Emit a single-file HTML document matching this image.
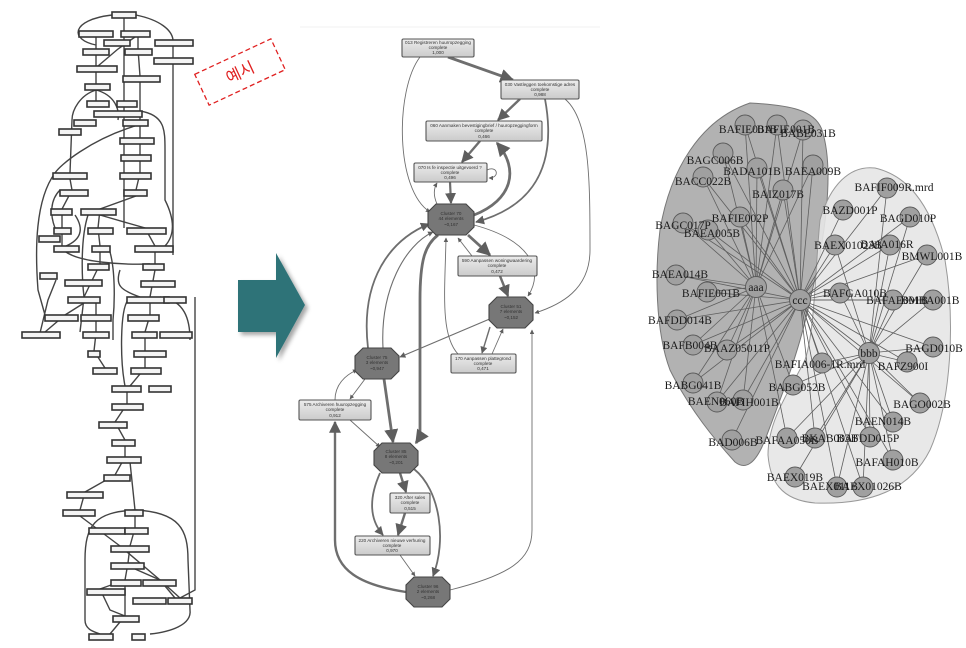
<!DOCTYPE html>
<html><head><meta charset="utf-8"><style>
html,body{margin:0;padding:0;background:#fff;}
svg{display:block;}
.lb{fill:#f4f4f4;stroke:#333;stroke-width:1.6;}
.le{fill:none;stroke:#444;stroke-width:1.4;}
.mb{fill:url(#gb);stroke:#555;stroke-width:1.1;}
.oc{fill:#777;stroke:#444;stroke-width:1.1;}
.me{fill:none;stroke:#6e6e6e;}
.mt{font-family:"Liberation Sans",sans-serif;font-size:4.6px;fill:#333;text-anchor:middle;}
.rn{fill:#a0a0a0;stroke:#5a5a5a;stroke-width:0.9;}
.rl{stroke:#5e5e5e;stroke-width:0.8;}
.rt{font-family:"Liberation Serif",serif;font-size:11.5px;fill:#1a1a1a;text-anchor:middle;}
</style></head><body>
<svg width="966" height="648" viewBox="0 0 966 648" xmlns="http://www.w3.org/2000/svg">
<defs>
<linearGradient id="gb" x1="0" y1="0" x2="0" y2="1"><stop offset="0" stop-color="#ececec"/><stop offset="1" stop-color="#cbcbcb"/></linearGradient>
<marker id="ar" viewBox="0 0 10 10" refX="9" refY="5" markerWidth="5" markerHeight="5" orient="auto"><path d="M0,0L10,5L0,10z" fill="#5e5e5e"/></marker>
<filter id="sh"><feDropShadow dx="3" dy="3" stdDeviation="2" flood-color="#000" flood-opacity="0.35"/></filter>
</defs>

<!-- LEFT PANEL edges -->
<g class="le">
<path d="M124,18 L124,76 L124,138 L124,190 L124,228"/>
<path d="M112,15 C70,20 70,40 96,45"/>
<path d="M136,15 C160,20 172,30 173,40 L173,240 L173,255"/>
<path d="M96,37 L96,49 L96,66 L96,84 L96,101"/>
<path d="M135,37 L118,49 L98,66"/>
<path d="M138,37 L138,49 L140,76 L140,120 L140,138 L140,155 L140,173 L136,190"/>
<path d="M96,90 C80,95 72,110 72,120 L70,173"/>
<path d="M96,90 C115,95 120,110 118,120"/>
<path d="M140,111 C165,115 165,130 165,150 L165,200 C175,220 175,235 165,246"/>
<path d="M135,126 C90,140 60,165 55,173 C35,200 35,250 38,290 L45,315"/>
<path d="M70,179 L72,190 L62,209 L62,228 L62,246"/>
<path d="M60,190 C50,200 50,215 55,228 M75,215 C85,230 80,240 66,246"/>
<path d="M136,196 L100,209 L98,228 L100,246 L100,264 L84,297"/>
<path d="M100,215 L145,228 L155,246 L155,264"/>
<path d="M66,252 C80,262 120,265 150,264"/>
<path d="M88,215 C80,240 82,280 84,297 L82,315 L80,332"/>
<path d="M110,252 C115,270 115,300 113,320 L113,340"/>
<path d="M155,270 L150,297 L150,315 L145,332"/>
<path d="M160,297 C185,300 190,320 190,340"/>
<path d="M120,270 C115,285 120,290 140,297"/>
<path d="M56,280 L48,300 L40,333"/>
<path d="M84,303 L65,315 L45,332"/>
<path d="M96,303 L96,315 L96,333 L94,351 L105,368"/>
<path d="M128,300 C120,310 120,360 125,386"/>
<path d="M145,338 L145,351 L145,368 L130,386"/>
<path d="M195,297 L195,590 L180,598"/>
<path d="M127,392 L127,404 L115,422 L125,440 L125,457 L115,475 L85,492 L80,510"/>
<path d="M130,462 L135,510 L135,528 L130,546 L128,563 L125,580 L125,616 L110,634"/>
<path d="M135,510 C95,512 85,525 85,560 L85,620 C85,630 95,632 100,634"/>
<path d="M135,510 C180,512 188,530 188,560 L190,610 C192,625 170,632 150,634"/>
<path d="M80,516 L120,546 L160,580 L175,598"/>
<path d="M125,580 L100,589 L110,610 L125,616"/>
<path d="M135,569 L160,580 L180,598"/>
</g>
<g class="lb">
<rect x="112" y="12" width="24" height="6"/>
<rect x="79" y="31" width="34" height="6"/><rect x="121" y="31" width="29" height="6"/>
<rect x="104" y="40" width="26" height="6"/><rect x="155" y="40" width="38" height="6"/>
<rect x="83" y="49" width="26" height="6"/><rect x="125" y="49" width="27" height="6"/>
<rect x="154" y="58" width="39" height="6"/><rect x="77" y="66" width="40" height="6"/>
<rect x="123" y="76" width="37" height="6"/><rect x="85" y="84" width="25" height="6"/>
<rect x="87" y="101" width="22" height="6"/><rect x="117" y="101" width="20" height="6"/>
<rect x="94" y="111" width="48" height="6"/><rect x="74" y="120" width="22" height="6"/>
<rect x="123" y="120" width="25" height="6"/><rect x="59" y="129" width="22" height="6"/>
<rect x="120" y="138" width="34" height="6"/><rect x="121" y="155" width="30" height="6"/>
<rect x="120" y="173" width="31" height="6"/><rect x="53" y="173" width="34" height="6"/>
<rect x="60" y="190" width="28" height="6"/><rect x="124" y="190" width="23" height="6"/>
<rect x="51" y="209" width="21" height="6"/><rect x="81" y="209" width="35" height="6"/>
<rect x="54" y="228" width="17" height="6"/><rect x="88" y="228" width="25" height="6"/>
<rect x="127" y="228" width="39" height="6"/><rect x="39" y="236" width="21" height="6"/>
<rect x="54" y="246" width="25" height="6"/><rect x="92" y="246" width="18" height="6"/>
<rect x="135" y="246" width="38" height="6"/><rect x="88" y="264" width="21" height="6"/>
<rect x="143" y="264" width="21" height="6"/><rect x="40" y="273" width="17" height="6"/>
<rect x="65" y="280" width="37" height="6"/><rect x="141" y="281" width="34" height="6"/>
<rect x="68" y="297" width="32" height="6"/><rect x="127" y="297" width="42" height="6"/>
<rect x="164" y="297" width="22" height="6"/><rect x="45" y="315" width="33" height="6"/>
<rect x="81" y="315" width="30" height="6"/><rect x="128" y="315" width="31" height="6"/>
<rect x="22" y="332" width="38" height="6"/><rect x="83" y="332" width="26" height="6"/>
<rect x="132" y="332" width="25" height="6"/><rect x="160" y="332" width="32" height="6"/>
<rect x="88" y="351" width="12" height="6"/><rect x="134" y="351" width="32" height="6"/>
<rect x="93" y="368" width="24" height="6"/><rect x="131" y="368" width="30" height="6"/>
<rect x="112" y="386" width="29" height="6"/><rect x="149" y="386" width="22" height="6"/>
<rect x="112" y="404" width="31" height="6"/><rect x="99" y="422" width="28" height="6"/>
<rect x="112" y="440" width="23" height="6"/><rect x="107" y="457" width="34" height="6"/>
<rect x="104" y="475" width="26" height="6"/><rect x="67" y="492" width="36" height="6"/>
<rect x="63" y="510" width="32" height="6"/><rect x="125" y="510" width="18" height="6"/>
<rect x="89" y="528" width="36" height="6"/><rect x="125" y="528" width="23" height="6"/>
<rect x="111" y="546" width="38" height="6"/><rect x="111" y="563" width="33" height="6"/>
<rect x="111" y="580" width="30" height="6"/><rect x="143" y="580" width="33" height="6"/>
<rect x="87" y="589" width="38" height="6"/><rect x="133" y="598" width="33" height="6"/>
<rect x="168" y="598" width="24" height="6"/><rect x="113" y="616" width="26" height="6"/>
<rect x="89" y="634" width="24" height="6"/><rect x="132" y="634" width="13" height="6"/>
</g>

<!-- dashed label -->
<g transform="translate(240,72) rotate(-25)">
<rect x="-42" y="-17" width="84" height="34" fill="none" stroke="#e02020" stroke-width="1.3" stroke-dasharray="5,3"/>
<text x="0" y="6" font-family="'Liberation Sans','Noto Sans CJK KR',sans-serif" font-size="16" fill="#e02020" text-anchor="middle">예시</text>
</g>

<!-- teal arrow -->
<path d="M238,280 L276,280 L276,253 L305,305 L276,358 L276,332 L238,332 Z" fill="#2f7378" filter="url(#sh)"/>

<!-- MIDDLE PANEL -->
<line x1="300" y1="27" x2="600" y2="27" stroke="#f0f0f0" stroke-width="1"/>
<g class="me" marker-end="url(#ar)">
<path d="M448,57 L513,80" stroke-width="2.8"/>
<path d="M420,57 C395,90 395,190 430,212" stroke-width="0.9"/>
<path d="M520,99 L498,120" stroke-width="2.4"/>
<path d="M545,99 C560,180 520,210 476,222" stroke-width="1.8"/>
<path d="M565,99 C590,120 590,180 590,250 C590,290 560,305 535,313" stroke-width="0.9"/>
<path d="M480,141 L462,162" stroke-width="2.4"/>
<path d="M474,215 C512,200 520,170 497,143" stroke-width="2.8"/>
<path d="M450,182 L451,203" stroke-width="2.2"/>
<path d="M437,204 C433,195 434,188 437,183" stroke-width="0.9"/>
<path d="M487,170 C498,165 500,178 489,178" stroke-width="0.9"/>
<path d="M468,235 L490,255" stroke-width="2.8"/>
<path d="M472,256 L458,238" stroke-width="0.9"/>
<path d="M474,225 C530,240 545,270 528,296" stroke-width="0.9"/>
<path d="M500,276 L508,296" stroke-width="2.4"/>
<path d="M492,318 L400,357" stroke-width="1.2"/>
<path d="M490,327 L482,353" stroke-width="1.4"/>
<path d="M492,354 L503,329" stroke-width="0.9"/>
<path d="M368,348 C360,280 390,240 429,224" stroke-width="1.8"/>
<path d="M383,348 C380,290 405,245 433,232" stroke-width="1.1"/>
<path d="M438,235 C425,245 420,260 420,300 L420,430 C420,436 418,440 416,443" stroke-width="2.8"/>
<path d="M458,354 C440,335 445,290 446,238" stroke-width="0.9"/>
<path d="M384,379 L393,442" stroke-width="2.8"/>
<path d="M365,379 L350,399" stroke-width="0.9"/>
<path d="M335,400 C335,385 345,375 357,370" stroke-width="0.9"/>
<path d="M350,420 L380,447" stroke-width="0.9"/>
<path d="M400,473 L406,492" stroke-width="2.4"/>
<path d="M380,473 C368,500 370,520 383,535" stroke-width="1.8"/>
<path d="M405,513 L398,535" stroke-width="2.4"/>
<path d="M400,555 L415,576" stroke-width="0.9"/>
<path d="M414,469 C440,490 447,540 433,576" stroke-width="1.8"/>
<path d="M406,592 C360,585 335,570 335,540 L335,422" stroke-width="2.4"/>
<path d="M450,590 C510,575 532,560 532,530 L532,330" stroke-width="0.9"/>
</g>
<g>
<rect class="mb" x="402" y="39" width="72" height="18" rx="1.5"/>
<text class="mt" x="438" y="44">013 Registreren huurropzegging</text><text class="mt" x="438" y="49">complete</text><text class="mt" x="438" y="54">1,000</text>
<rect class="mb" x="501" y="80" width="78" height="19" rx="1.5"/>
<text class="mt" x="540" y="86">030 Vastleggen toekomstige adres</text><text class="mt" x="540" y="91">complete</text><text class="mt" x="540" y="96">0,988</text>
<rect class="mb" x="426" y="121" width="116" height="20" rx="1.5"/>
<text class="mt" x="484" y="127">060 Aanmaken bevestigingbrief / huuropzeggingform</text><text class="mt" x="484" y="132">complete</text><text class="mt" x="484" y="138">0,466</text>
<rect class="mb" x="414" y="163" width="73" height="19" rx="1.5"/>
<text class="mt" x="450" y="169">070 Is fe inspectie uitgevoerd ?</text><text class="mt" x="450" y="174">complete</text><text class="mt" x="450" y="179">0,496</text>
<rect class="mb" x="458" y="256" width="79" height="20" rx="1.5"/>
<text class="mt" x="497" y="262">590 Aanpassen woningwaardering</text><text class="mt" x="497" y="267">complete</text><text class="mt" x="497" y="273">0,472</text>
<rect class="mb" x="451" y="354" width="65" height="19" rx="1.5"/>
<text class="mt" x="483" y="360">170 Aanpassen plattegrond</text><text class="mt" x="483" y="365">complete</text><text class="mt" x="483" y="370">0,471</text>
<rect class="mb" x="299" y="400" width="72" height="20" rx="1.5"/>
<text class="mt" x="335" y="406">575 Archiveren huuropzegging</text><text class="mt" x="335" y="411">complete</text><text class="mt" x="335" y="417">0,912</text>
<rect class="mb" x="390" y="493" width="40" height="20" rx="1.5"/>
<text class="mt" x="410" y="499">320 After sales</text><text class="mt" x="410" y="504">complete</text><text class="mt" x="410" y="510">0,515</text>
<rect class="mb" x="355" y="536" width="75" height="19" rx="1.5"/>
<text class="mt" x="392" y="542">220 Archiveren nieuwe verhuring</text><text class="mt" x="392" y="547">complete</text><text class="mt" x="392" y="552">0,970</text>
<polygon class="oc" points="436,204 466,204 474,212 474,227 466,235 436,235 428,227 428,212"/>
<text class="mt" x="451" y="215">Cluster 70</text><text class="mt" x="451" y="220">44 elements</text><text class="mt" x="451" y="226">~0,167</text>
<polygon class="oc" points="497,297 525,297 533,305 533,320 525,328 497,328 489,320 489,305"/>
<text class="mt" x="511" y="308">Cluster 51</text><text class="mt" x="511" y="313">7 elements</text><text class="mt" x="511" y="319">~0,152</text>
<polygon class="oc" points="363,348 391,348 399,356 399,371 391,379 363,379 355,371 355,356"/>
<text class="mt" x="377" y="359">Cluster 75</text><text class="mt" x="377" y="364">3 elements</text><text class="mt" x="377" y="370">~0,947</text>
<polygon class="oc" points="382,443 410,443 418,451 418,465 410,473 382,473 374,465 374,451"/>
<text class="mt" x="396" y="453">Cluster 85</text><text class="mt" x="396" y="458">8 elements</text><text class="mt" x="396" y="464">~0,201</text>
<polygon class="oc" points="414,577 442,577 450,585 450,599 442,607 414,607 406,599 406,585"/>
<text class="mt" x="428" y="588">Cluster 96</text><text class="mt" x="428" y="593">2 elements</text><text class="mt" x="428" y="599">~0,268</text>
</g>

<!-- RIGHT PANEL -->
<path d="M750,103 C790,105 815,110 822,130 C835,170 825,240 810,300 C800,350 780,400 765,440 C755,465 745,470 735,462 C715,440 690,410 670,370 C655,330 655,270 660,230 C670,170 700,120 750,103 Z" fill="#b2b2b2" stroke="#777" stroke-width="1"/>
<path d="M875,168 C905,175 930,200 945,260 C955,320 952,400 930,450 C910,490 870,505 815,503 C780,500 770,480 768,455 C768,420 790,390 805,360 C815,330 815,270 820,220 C830,185 850,165 875,168 Z" fill="#e6e6e6" stroke="#999" stroke-width="1" fill-opacity="0.9"/>
<g class="rl">
<line x1="756" y1="287" x2="745" y2="125"/><line x1="756" y1="287" x2="777" y2="125"/><line x1="756" y1="287" x2="803" y2="130"/><line x1="756" y1="287" x2="813" y2="165"/><line x1="756" y1="287" x2="723" y2="153"/><line x1="756" y1="287" x2="757" y2="168"/><line x1="756" y1="287" x2="703" y2="177"/><line x1="756" y1="287" x2="783" y2="190"/><line x1="756" y1="287" x2="740" y2="217"/><line x1="756" y1="287" x2="683" y2="223"/><line x1="756" y1="287" x2="708" y2="230"/><line x1="756" y1="287" x2="676" y2="275"/><line x1="756" y1="287" x2="707" y2="292"/><line x1="756" y1="287" x2="677" y2="320"/><line x1="756" y1="287" x2="693" y2="345"/><line x1="756" y1="287" x2="727" y2="350"/><line x1="756" y1="287" x2="693" y2="383"/><line x1="756" y1="287" x2="717" y2="402"/><line x1="756" y1="287" x2="743" y2="400"/><line x1="756" y1="287" x2="793" y2="385"/><line x1="756" y1="287" x2="787" y2="438"/>
<line x1="800" y1="300" x2="745" y2="125"/><line x1="800" y1="300" x2="777" y2="125"/><line x1="800" y1="300" x2="803" y2="130"/><line x1="800" y1="300" x2="813" y2="165"/><line x1="800" y1="300" x2="723" y2="153"/><line x1="800" y1="300" x2="757" y2="168"/><line x1="800" y1="300" x2="703" y2="177"/><line x1="800" y1="300" x2="783" y2="190"/><line x1="800" y1="300" x2="740" y2="217"/><line x1="800" y1="300" x2="683" y2="223"/><line x1="800" y1="300" x2="708" y2="230"/><line x1="800" y1="300" x2="676" y2="275"/><line x1="800" y1="300" x2="707" y2="292"/><line x1="800" y1="300" x2="677" y2="320"/><line x1="800" y1="300" x2="693" y2="345"/><line x1="800" y1="300" x2="727" y2="350"/><line x1="800" y1="300" x2="693" y2="383"/><line x1="800" y1="300" x2="717" y2="402"/><line x1="800" y1="300" x2="743" y2="400"/><line x1="800" y1="300" x2="732" y2="440"/>
<line x1="800" y1="300" x2="887" y2="188"/><line x1="800" y1="300" x2="843" y2="210"/><line x1="800" y1="300" x2="910" y2="217"/><line x1="800" y1="300" x2="835" y2="245"/><line x1="800" y1="300" x2="890" y2="245"/><line x1="800" y1="300" x2="927" y2="255"/><line x1="800" y1="300" x2="840" y2="293"/><line x1="800" y1="300" x2="893" y2="300"/><line x1="800" y1="300" x2="933" y2="300"/><line x1="800" y1="300" x2="933" y2="347"/><line x1="800" y1="300" x2="907" y2="362"/><line x1="800" y1="300" x2="822" y2="363"/><line x1="800" y1="300" x2="920" y2="403"/><line x1="800" y1="300" x2="893" y2="422"/><line x1="800" y1="300" x2="815" y2="438"/><line x1="800" y1="300" x2="870" y2="437"/><line x1="800" y1="300" x2="893" y2="460"/><line x1="800" y1="300" x2="837" y2="487"/><line x1="800" y1="300" x2="863" y2="487"/><line x1="800" y1="300" x2="869" y2="353"/>
<line x1="869" y1="353" x2="887" y2="188"/><line x1="869" y1="353" x2="910" y2="217"/><line x1="869" y1="353" x2="835" y2="245"/><line x1="869" y1="353" x2="890" y2="245"/><line x1="869" y1="353" x2="927" y2="255"/><line x1="869" y1="353" x2="840" y2="293"/><line x1="869" y1="353" x2="893" y2="300"/><line x1="869" y1="353" x2="933" y2="300"/><line x1="869" y1="353" x2="933" y2="347"/><line x1="869" y1="353" x2="907" y2="362"/><line x1="869" y1="353" x2="822" y2="363"/><line x1="869" y1="353" x2="920" y2="403"/><line x1="869" y1="353" x2="893" y2="422"/><line x1="869" y1="353" x2="787" y2="438"/><line x1="869" y1="353" x2="815" y2="438"/><line x1="869" y1="353" x2="870" y2="437"/><line x1="869" y1="353" x2="893" y2="460"/><line x1="869" y1="353" x2="795" y2="477"/><line x1="869" y1="353" x2="837" y2="487"/><line x1="869" y1="353" x2="863" y2="487"/><line x1="869" y1="353" x2="793" y2="385"/>
</g>
<g class="rn">
<circle cx="756" cy="287" r="10.5"/><circle cx="800" cy="300" r="10.5"/><circle cx="869" cy="353" r="10.5"/>
<circle cx="745" cy="125" r="10"/><circle cx="777" cy="125" r="10"/><circle cx="803" cy="130" r="10"/><circle cx="813" cy="165" r="10"/><circle cx="723" cy="153" r="10"/><circle cx="757" cy="168" r="10"/><circle cx="703" cy="177" r="10"/><circle cx="783" cy="190" r="10"/><circle cx="740" cy="217" r="10"/><circle cx="683" cy="223" r="10"/><circle cx="708" cy="230" r="10"/><circle cx="676" cy="275" r="10"/><circle cx="707" cy="292" r="10"/><circle cx="677" cy="320" r="10"/><circle cx="693" cy="345" r="10"/><circle cx="727" cy="350" r="10"/><circle cx="693" cy="383" r="10"/><circle cx="717" cy="402" r="10"/><circle cx="743" cy="400" r="10"/><circle cx="732" cy="440" r="10"/>
<circle cx="887" cy="188" r="10"/><circle cx="843" cy="210" r="10"/><circle cx="910" cy="217" r="10"/><circle cx="835" cy="245" r="10"/><circle cx="890" cy="245" r="10"/><circle cx="927" cy="255" r="10"/><circle cx="840" cy="293" r="10"/><circle cx="893" cy="300" r="10"/><circle cx="933" cy="300" r="10"/><circle cx="933" cy="347" r="10"/><circle cx="907" cy="362" r="10"/><circle cx="822" cy="363" r="10"/><circle cx="793" cy="385" r="10"/><circle cx="920" cy="403" r="10"/><circle cx="893" cy="422" r="10"/><circle cx="787" cy="438" r="10"/><circle cx="815" cy="438" r="10"/><circle cx="870" cy="437" r="10"/><circle cx="893" cy="460" r="10"/><circle cx="795" cy="477" r="10"/><circle cx="837" cy="487" r="10"/><circle cx="863" cy="487" r="10"/>
</g>
<g class="rt">
<text x="756" y="291">aaa</text><text x="800" y="304">ccc</text><text x="869" y="357">bbb</text>
<text x="748" y="133">BAFIE001B</text><text x="786" y="133">BAFIE001B</text><text x="808" y="137">BABE031B</text><text x="813" y="175">BAEA009B</text><text x="715" y="164">BAGC006B</text><text x="752" y="175">BADA101B</text><text x="703" y="185">BACC022B</text><text x="778" y="198">BAIZ017B</text><text x="740" y="222">BAFIE002P</text><text x="683" y="229">BAGC017P</text><text x="712" y="237">BAEA005B</text><text x="680" y="278">BAEA014B</text><text x="711" y="297">BAFIE001B</text><text x="680" y="324">BAFDD014B</text><text x="690" y="349">BAFB004B</text><text x="737" y="352">BAAZ05011P</text><text x="693" y="389">BABG041B</text><text x="716" y="405">BAEN060B</text><text x="749" y="406">BAFIH001B</text><text x="733" y="446">BAD006B</text>
<text x="894" y="191">BAFIF009R.mrd</text><text x="850" y="214">BAZD001P</text><text x="908" y="222">BAGD010P</text><text x="848" y="249">BAEX01023B</text><text x="887" y="248">BAIA016R</text><text x="932" y="260">BMWL001B</text><text x="855" y="297">BAFGA010B</text><text x="897" y="304">BAFAE001B</text><text x="930" y="304">BMBA001B</text><text x="934" y="352">BAGD010B</text><text x="903" y="370">BAFZ900I</text><text x="820" y="368">BAFIA006-1R.mrd</text><text x="797" y="391">BABG052B</text><text x="922" y="408">BAGO002B</text><text x="883" y="425">BAEN014B</text><text x="787" y="444">BAFAA050B</text><text x="830" y="442">BKAB003B</text><text x="868" y="442">BAFDD015P</text><text x="887" y="466">BAFAH010B</text><text x="795" y="481">BAEX019B</text><text x="830" y="490">BAEX011B</text><text x="868" y="490">BAEX01026B</text>
</g>
</svg>
</body></html>
